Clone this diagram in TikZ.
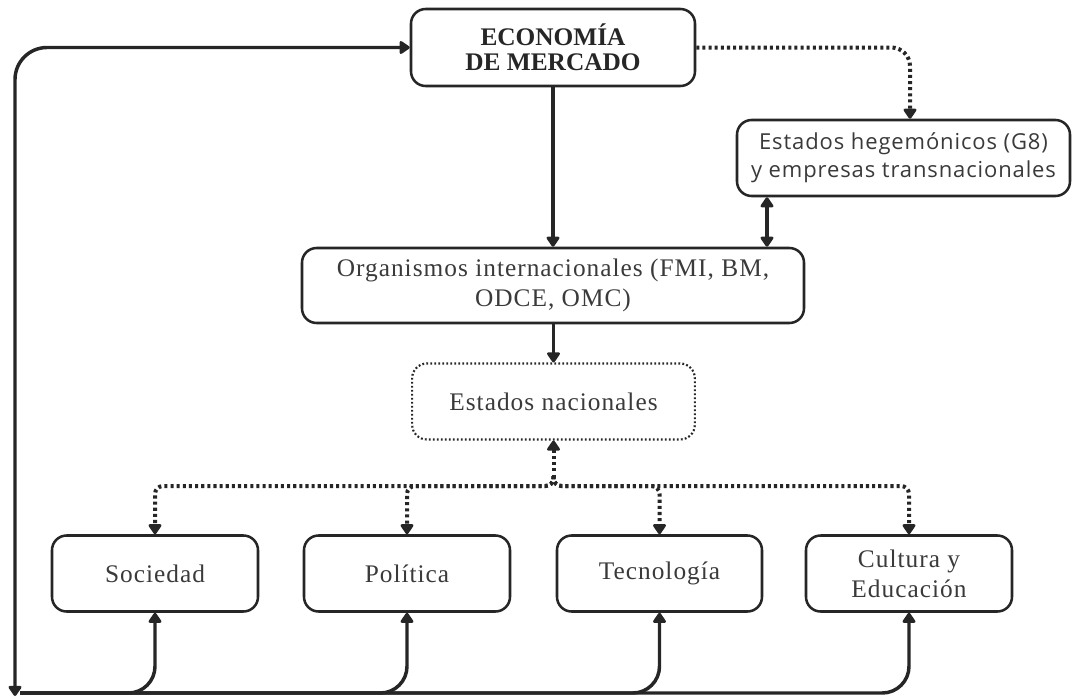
\documentclass[tikz,border=0pt]{standalone}
\usepackage{fontspec}
\setmainfont{Liberation Serif}
\newfontfamily\sansf[LetterSpace=4]{Open Sans}
\newfontfamily\serifsp[LetterSpace=4]{Liberation Serif}
\usetikzlibrary{arrows.meta,calc}
\definecolor{ln}{HTML}{262626}
\definecolor{tx}{HTML}{3A3A3A}
\begin{document}
\begin{tikzpicture}[x=0.75pt,y=-0.75pt,
  box/.style={draw=ln, line width=1.9pt, rounded corners=11pt, align=center, inner sep=0pt, text=tx,
    font=\serifsp\fontsize{19}{22.5}\selectfont},
  dotbox/.style={box, draw=ln, line width=1.6pt, dash pattern=on 1.4pt off 1.6pt},
  tip/.style={-{Triangle[round,length=8.5pt,width=11pt]}},
  arr/.style={draw=ln, line width=2.6pt, tip},
  darr/.style={draw=ln, line width=2.6pt, {Triangle[round,length=8.5pt,width=11pt]}-{Triangle[round,length=8.5pt,width=11pt]}},
  dline/.style={draw=ln, line width=3pt, dash pattern=on 2.3pt off 2.3pt},
]
\useasboundingbox (0,0) rectangle (1072,700);

\node[box, minimum width=213pt, minimum height=57.75pt,
  font=\bfseries\fontsize{19}{19}\selectfont, text=ln] (eco) at (553,47.5) {ECONOMÍA\\DE MERCADO};
\node[box, minimum width=249.75pt, minimum height=57pt,
  font=\sansf\fontsize{16.5}{21}\selectfont] (heg) at (903.5,158) {Estados hegemónicos (G8)\\y empresas transnacionales};
\node[box, minimum width=376.5pt, minimum height=56.25pt] (org) at (553,285.5) {Organismos internacionales (FMI, BM,\\ODCE, OMC)};
\node[dotbox, minimum width=212pt, minimum height=57pt] (nac) at (553.5,401.5) {Estados nacionales};
\node[box, minimum width=154.5pt, minimum height=57pt] (soc) at (155,573.5) {Sociedad};
\node[box, minimum width=154.5pt, minimum height=57pt] (pol) at (407,573.5) {Política};
\node[box, minimum width=153.75pt, minimum height=57pt] (tec) at (659.5,573.5) {Tecnología};
\node[box, minimum width=154.5pt, minimum height=57pt] (cul) at (909,573.5) {Cultura y\\Educación};

% top connectors
\draw[arr] (eco.south) -- (eco.south |- org.north);
\coordinate (hx) at (910,0);
\draw[dline, rounded corners=14pt, tip] (eco.east) -| (hx |- heg.north);
\coordinate (dx) at (767,0);
\draw[darr] (dx |- heg.south) -- (dx |- org.north);
\draw[arr] (nac.north |- org.south) -- (nac.north);

% dotted tree
\coordinate (j) at (553.5,476);
\coordinate (r) at (553.5,486);
\draw[dline, {Triangle[round,length=8.5pt,width=11pt]}-] (nac.south) -- (j);
\foreach \c in {soc,pol,tec,cul} {
  \draw[dline, rounded corners=6pt, tip] (j) |- (r -| \c.north) -- (\c.north);
}

% feedback loop
\coordinate (bl) at (15,696);
\draw[darr, rounded corners=24pt] (bl) |- (eco.west);
\coordinate (b0) at (20,693);
\foreach \c in {soc,pol,tec,cul} {
  \draw[arr, rounded corners=20pt] (b0) -| (\c.south);
}
\end{tikzpicture}
\end{document}
